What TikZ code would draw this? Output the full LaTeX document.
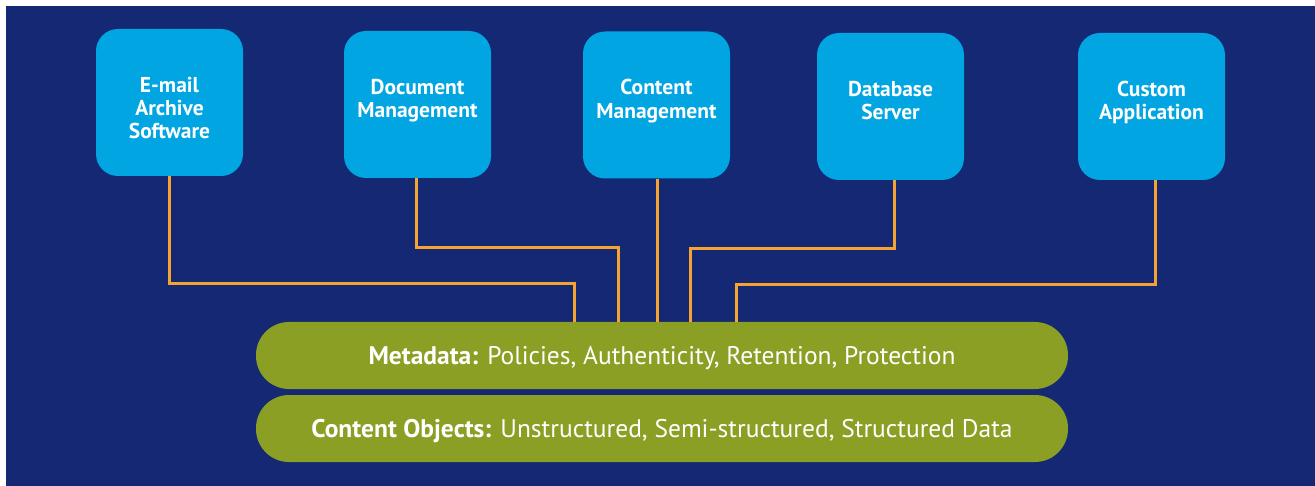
\documentclass[tikz,border=0pt]{standalone}
\usepackage{fontspec}
\setmainfont{PT Sans}
\definecolor{bgblue}{HTML}{142873}
\definecolor{boxcyan}{HTML}{00A5E2}
\definecolor{wire}{HTML}{F5A431}
\definecolor{pillgreen}{HTML}{8A9F24}
\begin{document}
\begin{tikzpicture}[x=1pt,y=-1pt,
  appbox/.style={fill=boxcyan, rounded corners=22pt, minimum width=147pt, minimum height=147pt, inner sep=0pt},
  boxtext/.style={anchor=north, yshift=-48pt, text=white,
    font=\fontsize{21.5}{23.2}\selectfont\bfseries, align=center, inner sep=0pt},
  pill/.style={fill=pillgreen, rounded corners=33pt, minimum width=812pt, minimum height=67pt,
    text=white, font=\fontsize{25.5}{28}\selectfont, inner sep=0pt, text depth=0pt},
  conn/.style={draw=wire, line width=3pt}]
\useasboundingbox (0,0) rectangle (1315,486);
\fill[white] (0,0) rectangle (1315,486);
\fill[bgblue] (6,6) rectangle (1315,486);
\node[appbox, label={[boxtext]north:E-mail\\Archive\\Software}] (b1) at (169.5,102.5) {};
\node[appbox, label={[boxtext]north:Document\\Management}] (b2) at (417.5,104.5) {};
\node[appbox, label={[boxtext]north:Content\\Management}] (b3) at (656.5,105) {};
\node[appbox, label={[boxtext]north:Database\\Server}] (b4) at (890.5,106.5) {};
\node[appbox, label={[boxtext]north:Custom\\Application}] (b5) at (1151.5,106.5) {};
\node[pill] (m) at (662,355.5) {\textbf{Metadata:} Policies, Authenticity, Retention, Protection};
\node[pill] (c) at (662,428.5) {\textbf{Content Objects:} Unstructured, Semi-structured, Structured Data};
\coordinate (p1) at (574,0);
\coordinate (p2) at (618,0);
\coordinate (p3) at (657,0);
\coordinate (p4) at (690,0);
\coordinate (p5) at (736,0);
\draw[conn] (b1.south -| 169,0) |- (0,284 -| p1) -- (p1 |- m.north);
\draw[conn] (b2.south -| 416,0) |- (0,248 -| p2) -- (p2 |- m.north);
\draw[conn] (b3.south -| p3) -- (p3 |- m.north);
\draw[conn] (b4.south -| 894,0) |- (0,249 -| p4) -- (p4 |- m.north);
\draw[conn] (b5.south -| 1155,0) |- (0,285 -| p5) -- (p5 |- m.north);
\end{tikzpicture}
\end{document}
